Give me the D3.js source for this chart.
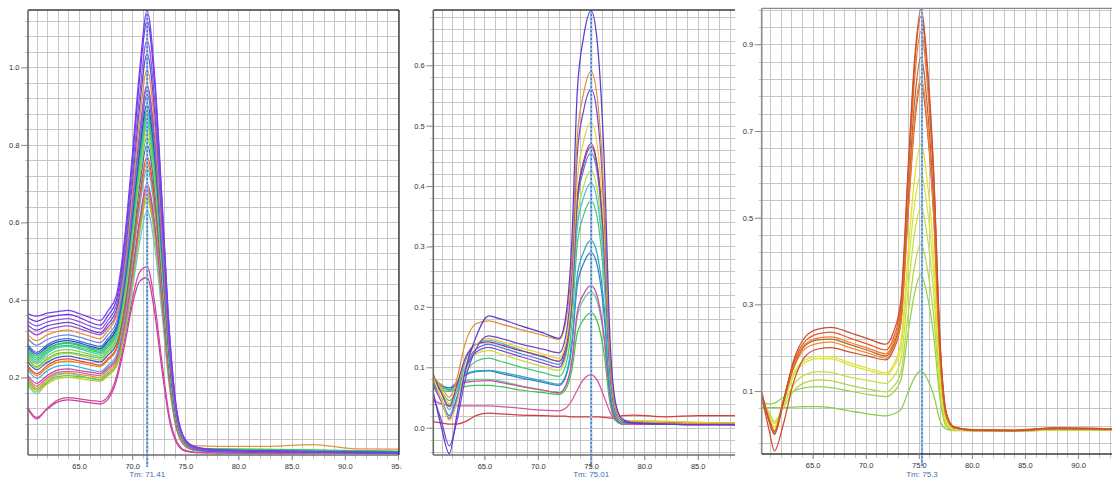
<!DOCTYPE html>
<html>
<head>
<meta charset="utf-8">
<script src="https://cdn.jsdelivr.net/npm/d3@7"></script>
<style>
  body { margin: 0; background: #fff; }
  svg { display: block; font-family: "Liberation Sans", Arial, sans-serif; }
</style>
</head>
<body>
<svg id="chart" width="1112" height="479"></svg>
<script>

// ---- panel 1 data (Tm 71.41) ----
var temps1 = [60.2, 61, 62, 63, 64, 65, 66, 67, 67.7, 68.5, 69.3, 70, 70.7, 71.4, 72.1, 72.8, 73.5, 74.2, 75, 76, 78, 82, 87, 91, 95.1];
var values1 = [
  [0.365,0.358,0.366,0.370,0.373,0.365,0.355,0.347, 0.371,0.411,0.562,0.770,0.993,1.145, 0.985,0.664,0.321,0.115,0.040,0.021, 0.014,0.011,0.009,0.008,0.007],
  [0.355,0.345,0.355,0.360,0.363,0.355,0.343,0.335, 0.359,0.398,0.547,0.751,0.971,1.120, 0.963,0.650,0.314,0.112,0.039,0.020, 0.013,0.010,0.008,0.007,0.006],
  [0.345,0.333,0.343,0.349,0.352,0.344,0.333,0.325, 0.347,0.385,0.526,0.720,0.928,1.070, 0.920,0.621,0.300,0.107,0.037,0.019, 0.012,0.010,0.008,0.007,0.006],
  [0.335,0.322,0.333,0.339,0.342,0.334,0.323,0.315, 0.337,0.373,0.509,0.697,0.898,1.035, 0.890,0.600,0.290,0.104,0.036,0.019, 0.012,0.010,0.008,0.007,0.006],
  [0.310,0.295,0.310,0.319,0.322,0.315,0.307,0.300, 0.321,0.356,0.488,0.668,0.863,0.995, 0.856,0.577,0.279,0.100,0.035,0.024, 0.022,0.022,0.027,0.016,0.015],
  [0.325,0.310,0.323,0.330,0.333,0.326,0.317,0.310, 0.329,0.362,0.484,0.652,0.832,0.955, 0.821,0.554,0.267,0.096,0.033,0.017, 0.011,0.009,0.008,0.007,0.006],
  [0.300,0.283,0.298,0.307,0.310,0.304,0.296,0.290, 0.310,0.342,0.467,0.637,0.821,0.945, 0.813,0.548,0.265,0.095,0.033,0.017, 0.011,0.009,0.008,0.007,0.006],
  [0.285,0.265,0.284,0.297,0.300,0.294,0.286,0.280, 0.300,0.332,0.456,0.625,0.807,0.930, 0.800,0.539,0.260,0.093,0.033,0.017, 0.012,0.010,0.009,0.008,0.007],
  [0.280,0.260,0.279,0.292,0.295,0.289,0.281,0.275, 0.294,0.325,0.445,0.609,0.785,0.905, 0.778,0.525,0.253,0.091,0.032,0.016, 0.010,0.008,0.007,0.006,0.005],
  [0.275,0.255,0.274,0.287,0.290,0.285,0.277,0.272, 0.291,0.321,0.439,0.600,0.773,0.890, 0.765,0.516,0.249,0.089,0.031,0.016, 0.012,0.011,0.010,0.009,0.008],
  [0.270,0.250,0.271,0.285,0.288,0.282,0.274,0.268, 0.286,0.317,0.433,0.592,0.764,0.880, 0.757,0.510,0.246,0.088,0.031,0.018, 0.015,0.014,0.012,0.010,0.009],
  [0.260,0.240,0.262,0.277,0.280,0.274,0.266,0.260, 0.278,0.309,0.425,0.583,0.754,0.870, 0.748,0.505,0.244,0.087,0.030,0.016, 0.011,0.009,0.008,0.007,0.006],
  [0.265,0.245,0.266,0.280,0.283,0.277,0.270,0.264, 0.282,0.312,0.425,0.580,0.747,0.860, 0.740,0.499,0.241,0.086,0.030,0.018, 0.016,0.015,0.013,0.011,0.010],
  [0.255,0.235,0.255,0.269,0.272,0.267,0.260,0.255, 0.273,0.303,0.416,0.570,0.737,0.850, 0.731,0.493,0.238,0.085,0.030,0.017, 0.014,0.013,0.011,0.010,0.009],
  [0.245,0.225,0.245,0.259,0.262,0.257,0.250,0.245, 0.263,0.292,0.404,0.558,0.723,0.835, 0.718,0.484,0.234,0.084,0.029,0.016, 0.013,0.012,0.011,0.010,0.009],
  [0.250,0.228,0.248,0.262,0.265,0.260,0.255,0.250, 0.267,0.296,0.404,0.552,0.712,0.820, 0.705,0.476,0.230,0.082,0.029,0.017, 0.015,0.014,0.012,0.010,0.009],
  [0.240,0.220,0.239,0.252,0.255,0.250,0.245,0.240, 0.257,0.285,0.391,0.537,0.694,0.800, 0.688,0.464,0.224,0.080,0.028,0.014, 0.009,0.008,0.007,0.006,0.005],
  [0.230,0.210,0.231,0.245,0.248,0.243,0.237,0.232, 0.248,0.275,0.377,0.517,0.668,0.770, 0.662,0.447,0.216,0.077,0.027,0.014, 0.010,0.009,0.008,0.007,0.006],
  [0.225,0.205,0.225,0.239,0.242,0.238,0.232,0.228, 0.244,0.270,0.370,0.507,0.655,0.755, 0.649,0.438,0.211,0.076,0.026,0.014, 0.011,0.010,0.009,0.008,0.007],
  [0.220,0.198,0.217,0.229,0.232,0.227,0.220,0.215, 0.231,0.257,0.357,0.493,0.640,0.740, 0.636,0.429,0.207,0.074,0.026,0.013, 0.009,0.008,0.007,0.006,0.005],
  [0.205,0.185,0.205,0.219,0.222,0.218,0.214,0.210, 0.225,0.249,0.342,0.470,0.607,0.700, 0.602,0.406,0.196,0.070,0.025,0.013, 0.009,0.008,0.007,0.006,0.005],
  [0.200,0.178,0.199,0.213,0.216,0.213,0.208,0.205, 0.220,0.244,0.336,0.462,0.598,0.690, 0.593,0.400,0.193,0.069,0.024,0.012, 0.008,0.007,0.006,0.005,0.005],
  [0.195,0.172,0.194,0.209,0.212,0.208,0.204,0.200, 0.214,0.238,0.330,0.454,0.589,0.680, 0.585,0.394,0.190,0.068,0.024,0.013, 0.011,0.010,0.009,0.008,0.007],
  [0.190,0.168,0.188,0.202,0.205,0.202,0.198,0.195, 0.209,0.233,0.323,0.447,0.580,0.670, 0.576,0.389,0.188,0.067,0.023,0.012, 0.010,0.009,0.008,0.007,0.006],
  [0.185,0.163,0.183,0.197,0.200,0.197,0.193,0.190, 0.204,0.228,0.317,0.439,0.571,0.660, 0.568,0.383,0.185,0.066,0.023,0.012, 0.010,0.010,0.009,0.008,0.007],
  [0.180,0.158,0.187,0.207,0.210,0.205,0.198,0.193, 0.206,0.228,0.311,0.425,0.547,0.630, 0.542,0.365,0.176,0.063,0.022,0.011, 0.008,0.007,0.006,0.006,0.005],
  [0.118,0.093,0.120,0.142,0.148,0.145,0.141,0.138, 0.150,0.200,0.300,0.400,0.472,0.485, 0.395,0.240,0.100,0.035,0.012,0.007, 0.006,0.005,0.005,0.004,0.004],
  [0.122,0.097,0.118,0.137,0.142,0.139,0.135,0.132, 0.143,0.190,0.285,0.385,0.448,0.458, 0.370,0.220,0.090,0.030,0.010,0.006, 0.005,0.005,0.004,0.004,0.004]
];
var colors1 = ['#7b3ff2','#6b38e0','#8e55e6','#5c4ed0','#e2963c','#b048c8','#6c86e6','#4a6ad6','#2e4fb2','#2fb8a6',
               '#3cc45a','#44c6d8','#2ed84e','#86d43a','#b8d428','#50c878','#3c5ed6','#e0502e','#e8862e','#3cb4e6',
               '#c04ca8','#d86898','#d8a420','#68c83c','#c8c824','#56cce0','#d2449e','#c8409a'];
var xTicks1 = [65, 70, 75, 80, 85, 90, 95];
var yTicks1 = [0.2, 0.4, 0.6, 0.8, 1.0];
var tm1 = 71.41;

// ---- panel 2 data (Tm 75.01) ----
var temps2 = [60.2, 60.9, 61.7, 62.4, 63.2, 64.2, 65.4, 66.5, 68.5, 70.5, 72, 72.6, 73.2, 73.7, 74.3, 75, 75.6, 76.2, 76.8, 77.3, 77.9, 79, 82, 85, 88.5];
var values2 = [
  [0.058,0.005,-0.043,0.020,0.095,0.150,0.185,0.180,0.168,0.157,0.148, 0.181,0.311,0.555,0.647,0.690, 0.635,0.455,0.138,0.041,0.015, 0.008,0.006,0.005,0.005],
  [0.085,0.070,0.050,0.080,0.140,0.172,0.177,0.172,0.162,0.153,0.146, 0.173,0.279,0.479,0.554,0.590, 0.543,0.389,0.118,0.035,0.013, 0.010,0.008,0.007,0.007],
  [0.052,0.015,-0.030,0.010,0.080,0.130,0.152,0.148,0.138,0.130,0.124, 0.150,0.255,0.451,0.525,0.560, 0.515,0.370,0.112,0.034,0.012, 0.007,0.006,0.005,0.005],
  [0.082,0.050,0.012,0.040,0.100,0.138,0.148,0.143,0.132,0.122,0.115, 0.138,0.232,0.408,0.474,0.505, 0.465,0.333,0.101,0.030,0.011, 0.012,0.011,0.009,0.008],
  [0.088,0.060,0.035,0.070,0.115,0.138,0.142,0.137,0.127,0.118,0.110, 0.132,0.218,0.380,0.441,0.470, 0.432,0.310,0.094,0.028,0.010, 0.009,0.008,0.007,0.007],
  [0.075,0.050,0.020,0.050,0.100,0.130,0.138,0.133,0.122,0.112,0.105, 0.126,0.210,0.368,0.427,0.455, 0.419,0.300,0.091,0.027,0.010, 0.008,0.007,0.006,0.006],
  [0.070,0.045,0.015,0.045,0.095,0.125,0.133,0.128,0.117,0.107,0.100, 0.122,0.210,0.374,0.436,0.465, 0.428,0.307,0.093,0.028,0.010, 0.007,0.006,0.005,0.005],
  [0.078,0.060,0.030,0.060,0.110,0.138,0.145,0.140,0.128,0.117,0.110, 0.128,0.199,0.331,0.381,0.405, 0.373,0.267,0.081,0.024,0.009, 0.009,0.008,0.007,0.007],
  [0.085,0.065,0.040,0.065,0.100,0.122,0.128,0.122,0.111,0.101,0.095, 0.115,0.194,0.343,0.399,0.425, 0.391,0.281,0.085,0.026,0.009, 0.011,0.010,0.009,0.008],
  [0.075,0.062,0.045,0.060,0.090,0.110,0.115,0.110,0.100,0.091,0.085, 0.102,0.172,0.303,0.352,0.375, 0.345,0.248,0.075,0.023,0.008, 0.009,0.008,0.007,0.007],
  [0.080,0.072,0.062,0.072,0.088,0.094,0.095,0.092,0.085,0.077,0.072, 0.086,0.143,0.251,0.291,0.310, 0.285,0.205,0.062,0.019,0.007, 0.008,0.007,0.006,0.006],
  [0.076,0.070,0.066,0.075,0.087,0.093,0.094,0.090,0.082,0.075,0.070, 0.083,0.136,0.235,0.272,0.290, 0.267,0.191,0.058,0.017,0.007, 0.007,0.006,0.006,0.005],
  [0.070,0.068,0.066,0.070,0.075,0.077,0.078,0.075,0.068,0.062,0.058, 0.069,0.111,0.191,0.221,0.235, 0.216,0.155,0.047,0.014,0.006, 0.006,0.006,0.005,0.005],
  [0.068,0.066,0.063,0.070,0.077,0.080,0.080,0.077,0.069,0.062,0.057, 0.067,0.107,0.183,0.212,0.225, 0.207,0.149,0.045,0.014,0.006, 0.007,0.006,0.006,0.006],
  [0.065,0.062,0.060,0.064,0.068,0.070,0.070,0.068,0.062,0.058,0.055, 0.063,0.096,0.156,0.179,0.190, 0.175,0.125,0.038,0.012,0.006, 0.007,0.006,0.006,0.005],
  [0.045,0.040,0.037,0.036,0.036,0.036,0.036,0.035,0.032,0.029,0.028, 0.032,0.045,0.062,0.080,0.088, 0.078,0.052,0.025,0.012,0.008, 0.006,0.006,0.006,0.005],
  [0.010,0.008,0.006,0.006,0.010,0.020,0.024,0.023,0.021,0.020,0.019, 0.019,0.018,0.018,0.018,0.018, 0.018,0.017,0.016,0.016,0.020, 0.021,0.018,0.020,0.020]
];
var colors2 = ['#5a3cd0','#e0923a','#7446d6','#e6d434','#a8327a','#4a80e0','#8a46cc','#3cc2d8','#c4dc3c','#44c878',
               '#2ea8b8','#2f7fd6','#d446aa','#5ad48a','#3cc44e','#d8529e','#d43c3c'];
var xTicks2 = [65, 70, 75, 80, 85];
var yTicks2 = [0.0, 0.1, 0.2, 0.3, 0.4, 0.5, 0.6];
var tm2 = 75.01;

// ---- panel 3 data (Tm 75.3) ----
var temps3 = [60.2, 60.9, 61.4, 62.2, 63.2, 64.3, 65.5, 66.7, 68.5, 70.3, 71.9, 72.6, 73.3, 74, 74.6, 75.2, 75.8, 76.4, 77, 77.6, 78.3, 80, 84, 88, 93.2];
var values3 = [
  [0.098,0.030,0.000,0.070,0.170,0.225,0.243,0.247,0.235,0.220,0.208, 0.235,0.308,0.617,0.864,0.980, 0.853,0.608,0.216,0.049,0.018, 0.010,0.009,0.014,0.012],
  [0.096,0.035,0.006,0.075,0.165,0.215,0.232,0.236,0.222,0.207,0.195, 0.222,0.295,0.603,0.850,0.965, 0.840,0.598,0.212,0.048,0.017, 0.011,0.010,0.015,0.013],
  [0.094,0.035,0.008,0.075,0.160,0.208,0.222,0.225,0.212,0.198,0.186, 0.212,0.283,0.580,0.818,0.930, 0.809,0.577,0.205,0.047,0.017, 0.010,0.009,0.013,0.012],
  [0.092,0.030,0.002,0.070,0.155,0.205,0.218,0.220,0.207,0.193,0.181, 0.205,0.271,0.546,0.767,0.870, 0.757,0.539,0.191,0.044,0.016, 0.009,0.008,0.013,0.011],
  [0.093,0.032,0.005,0.072,0.152,0.198,0.210,0.213,0.200,0.187,0.176, 0.199,0.260,0.520,0.728,0.825, 0.718,0.512,0.182,0.041,0.015, 0.011,0.010,0.014,0.012],
  [0.088,0.010,-0.038,0.020,0.120,0.180,0.197,0.200,0.190,0.180,0.172, 0.194,0.255,0.510,0.714,0.810, 0.705,0.502,0.178,0.041,0.015, 0.010,0.009,0.015,0.013],
  [0.090,0.040,0.015,0.070,0.140,0.172,0.180,0.179,0.165,0.152,0.142, 0.160,0.211,0.422,0.591,0.670, 0.583,0.415,0.147,0.034,0.013, 0.009,0.009,0.012,0.011],
  [0.088,0.040,0.018,0.068,0.135,0.166,0.175,0.174,0.160,0.147,0.138, 0.154,0.198,0.383,0.531,0.600, 0.522,0.372,0.132,0.030,0.012, 0.009,0.009,0.011,0.011],
  [0.085,0.045,0.025,0.065,0.115,0.138,0.145,0.143,0.132,0.124,0.118, 0.132,0.171,0.334,0.464,0.525, 0.457,0.326,0.116,0.026,0.011, 0.008,0.008,0.011,0.010],
  [0.082,0.050,0.030,0.060,0.100,0.120,0.126,0.124,0.113,0.104,0.098, 0.110,0.142,0.279,0.389,0.440, 0.383,0.273,0.097,0.022,0.010, 0.009,0.008,0.010,0.010],
  [0.075,0.070,0.072,0.085,0.100,0.108,0.110,0.108,0.100,0.092,0.087, 0.097,0.124,0.236,0.326,0.368, 0.320,0.228,0.081,0.018,0.010, 0.009,0.009,0.012,0.011],
  [0.062,0.062,0.062,0.062,0.063,0.064,0.064,0.062,0.054,0.047,0.043, 0.047,0.057,0.098,0.131,0.147, 0.128,0.091,0.032,0.012,0.009, 0.009,0.008,0.010,0.010]
];
var colors3 = ['#c65238','#e85a26','#f07a22','#b8643e','#f28c2c','#d24a30','#e4e02e','#d8e63a','#c6e040','#b2d842','#9ad244','#8ccc4a'];
var xTicks3 = [65, 70, 75, 80, 85, 90];
var yTicks3 = [0.1, 0.3, 0.5, 0.7, 0.9];
var tm3 = 75.3;

// layout of the three screenshots
var panels = [
  { temps: temps1, values: values1, colors: colors1, xTicks: xTicks1, yTicks: yTicks1, tm: tm1,
    left: 28, right: 399, top: 10, bottom: 455, xDomain: [60.2, 95.1], yDomain: [0, 1.148],
    gridStart: 0.04, gridStep: 0.04, crop: [0, 402], tmBase: 477, labelBase: 469,
    topColor: '#3a3a3a', leftColor: '#6a6a6a', bottomColor: '#6a6a6a', rightColor: '#2a2a2a' },
  { temps: temps2, values: values2, colors: colors2, xTicks: xTicks2, yTicks: yTicks2, tm: tm2,
    left: 433.3, right: 735, top: 10, bottom: 455, xDomain: [60.2, 88.5], yDomain: [-0.0452, 0.6915],
    gridStart: -0.04, gridStep: 0.02, crop: [405, 738], tmBase: 477, labelBase: 469,
    topColor: '#3a3a3a', leftColor: '#6a6a6a', bottomColor: '#6a6a6a', rightColor: null },
  { temps: temps3, values: values3, colors: colors3, xTicks: xTicks3, yTicks: yTicks3, tm: tm3,
    left: 761.7, right: 1112, top: 8.3, bottom: 454, xDomain: [60.2, 93.2], yDomain: [-0.0452, 0.983],
    gridStart: -0.02, gridStep: 0.04, crop: [738, 1112], tmBase: 476.5, labelBase: 468,
    topColor: '#8a8a8a', leftColor: '#8a8a8a', bottomColor: '#3a3a3a', rightColor: null }
];

var svg = d3.select('#chart');
var defs = svg.append('defs');

panels.forEach(function(p, i) {

  defs.append('clipPath').attr('id', 'crop' + i)
    .append('rect').attr('x', p.crop[0]).attr('y', 0)
    .attr('width', p.crop[1] - p.crop[0]).attr('height', 479);
  defs.append('clipPath').attr('id', 'plot' + i)
    .append('rect').attr('x', p.left).attr('y', p.top)
    .attr('width', p.right - p.left).attr('height', p.bottom - p.top);

  var x = d3.scaleLinear().domain(p.xDomain).range([p.left, p.right]);
  var y = d3.scaleLinear().domain(p.yDomain).range([p.bottom, p.top]);

  var g = svg.append('g').attr('clip-path', 'url(#crop' + i + ')');

  // grid: one line per degree, and fine horizontal steps
  var vLines = d3.range(Math.ceil(p.xDomain[0]), p.xDomain[1], 1);
  var hLines = d3.range(0, 40).map(function(k) { return +(p.gridStart + k * p.gridStep).toFixed(3); })
    .filter(function(v) { return v > p.yDomain[0] && v < p.yDomain[1]; });

  g.append('g').selectAll('line').data(vLines).enter().append('line')
    .attr('x1', function(d) { return Math.round(x(d)) + 0.5; })
    .attr('x2', function(d) { return Math.round(x(d)) + 0.5; })
    .attr('y1', p.top).attr('y2', p.bottom + 4)
    .attr('stroke', '#c6c6c6').attr('stroke-width', 1);

  g.append('g').selectAll('line').data(hLines).enter().append('line')
    .attr('x1', p.left - 3).attr('x2', p.right)
    .attr('y1', function(d) { return Math.round(y(d)) + 0.5; })
    .attr('y2', function(d) { return Math.round(y(d)) + 0.5; })
    .attr('stroke', '#c6c6c6').attr('stroke-width', 1);

  // melt curves
  var line = d3.line()
    .x(function(d) { return x(d[0]); })
    .y(function(d) { return y(d[1]); })
    .curve(d3.curveMonotoneX);

  var curves = g.append('g').attr('clip-path', 'url(#plot' + i + ')');
  p.values.slice().reverse().forEach(function(vals, k) {
    var idx = p.values.length - 1 - k;
    curves.append('path')
      .datum(p.temps.map(function(t, j) { return [t, vals[j]]; }))
      .attr('d', line)
      .attr('fill', 'none')
      .attr('stroke', p.colors[idx])
      .attr('stroke-width', 1.25);
  });

  // Tm marker
  g.append('line')
    .attr('x1', x(p.tm)).attr('x2', x(p.tm))
    .attr('y1', p.top).attr('y2', p.bottom + 12)
    .attr('stroke', '#9cc0e8').attr('stroke-width', 2.2);
  g.append('line')
    .attr('x1', x(p.tm)).attr('x2', x(p.tm))
    .attr('y1', p.top).attr('y2', p.bottom + 12)
    .attr('stroke', '#2d5fa6').attr('stroke-width', 1)
    .attr('stroke-dasharray', '2,2');

  // frame
  g.append('line').attr('x1', p.left).attr('x2', p.right).attr('y1', p.top).attr('y2', p.top)
    .attr('stroke', p.topColor).attr('stroke-width', 1.3);
  g.append('line').attr('x1', p.left).attr('x2', p.left).attr('y1', p.top).attr('y2', p.bottom)
    .attr('stroke', p.leftColor).attr('stroke-width', 1.6);
  g.append('line').attr('x1', p.left).attr('x2', p.right).attr('y1', p.bottom).attr('y2', p.bottom)
    .attr('stroke', p.bottomColor).attr('stroke-width', 1.6);
  if (p.rightColor) {
    g.append('line').attr('x1', p.right).attr('x2', p.right).attr('y1', p.top).attr('y2', p.bottom)
      .attr('stroke', p.rightColor).attr('stroke-width', 1.3);
  }

  // axes with labels
  var xAxis = g.append('g').attr('transform', 'translate(0,' + p.bottom + ')')
    .call(d3.axisBottom(x).tickValues(p.xTicks).tickFormat(d3.format('.1f'))
      .tickSize(5).tickPadding(p.labelBase - p.bottom - 5 - 5.3));
  var yAxis = g.append('g').attr('transform', 'translate(' + p.left + ',0)')
    .call(d3.axisLeft(y).tickValues(p.yTicks).tickFormat(d3.format('.1f'))
      .tickSize(7).tickPadding(1.5));

  [xAxis, yAxis].forEach(function(a) {
    a.select('.domain').remove();
    a.selectAll('.tick line').attr('stroke', '#8a8a8a');
    a.selectAll('.tick text')
      .attr('fill', '#333')
      .style('font-size', '7.5px')
      .style('font-family', '"Liberation Sans", Arial, sans-serif');
  });

  g.append('text')
    .attr('x', x(p.tm)).attr('y', p.tmBase)
    .attr('text-anchor', 'middle')
    .attr('fill', '#3a70b2')
    .style('font-size', '8px')
    .text('Tm: ' + p.tm);
});

</script>
</body>
</html>
